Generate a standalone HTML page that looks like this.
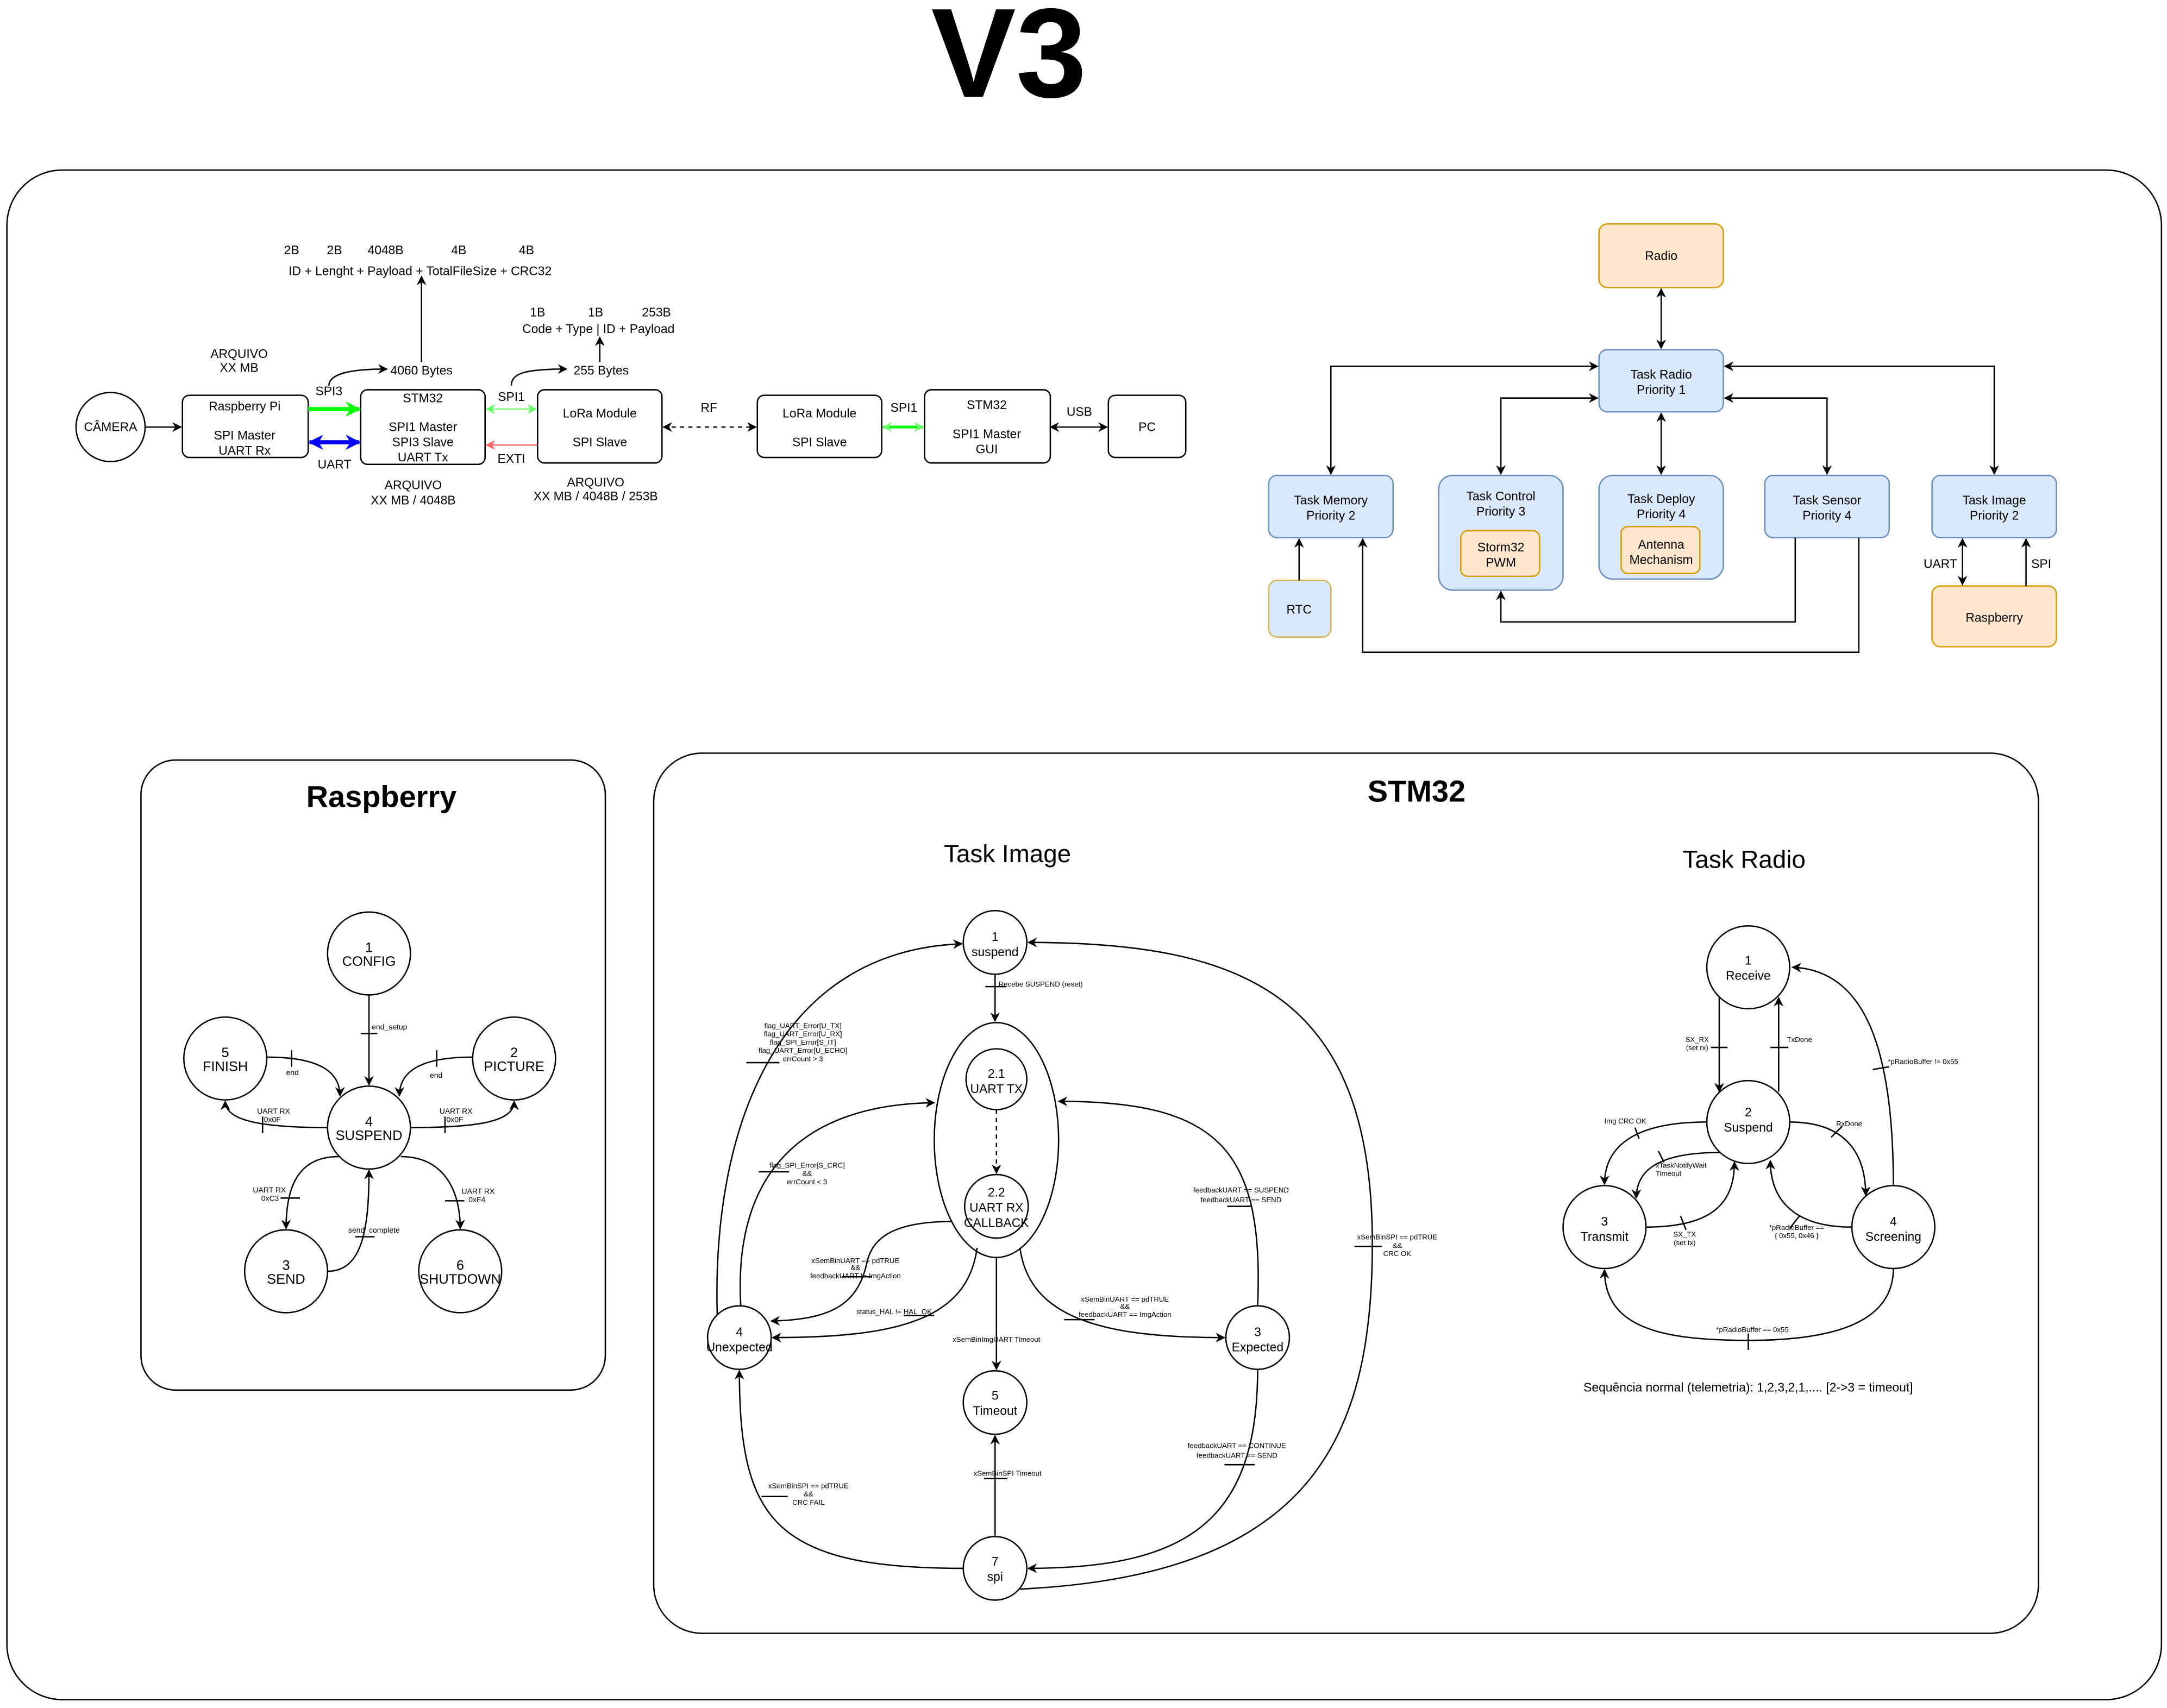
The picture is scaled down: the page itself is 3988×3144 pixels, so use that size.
<!DOCTYPE html>
<html><head><meta charset="utf-8">
<style>
html,body{margin:0;padding:0;background:#fff;}
svg{display:block;}
text{font-family:"Liberation Sans",sans-serif;fill:#000;}
</style></head>
<body>
<svg width="3988" height="3144" viewBox="0 0 1568 1236" xmlns="http://www.w3.org/2000/svg">
<defs>
<marker id="a" viewBox="0 0 10 10" refX="9" refY="5" markerWidth="7" markerHeight="7" markerUnits="userSpaceOnUse" orient="auto-start-reverse"><path d="M0,0 L10,5 L0,10 L3,5 z" fill="#000"/></marker>
<marker id="ag" viewBox="0 0 10 10" refX="9" refY="5" markerWidth="11" markerHeight="11" markerUnits="userSpaceOnUse" orient="auto-start-reverse"><path d="M0,0 L10,5 L0,10 L3,5 z" fill="#00ff00"/></marker>
<marker id="ab" viewBox="0 0 10 10" refX="9" refY="5" markerWidth="11" markerHeight="11" markerUnits="userSpaceOnUse" orient="auto-start-reverse"><path d="M0,0 L10,5 L0,10 L3,5 z" fill="#0000ff"/></marker>
<marker id="alg" viewBox="0 0 10 10" refX="9" refY="5" markerWidth="7" markerHeight="7" markerUnits="userSpaceOnUse" orient="auto-start-reverse"><path d="M0,0 L10,5 L0,10 L3,5 z" fill="#66ff66"/></marker>
<marker id="ar" viewBox="0 0 10 10" refX="9" refY="5" markerWidth="7" markerHeight="7" markerUnits="userSpaceOnUse" orient="auto-start-reverse"><path d="M0,0 L10,5 L0,10 L3,5 z" fill="#ff6666"/></marker>
</defs>

<text x="730" y="70" font-size="92" font-weight="bold" text-anchor="middle">V3</text>
<rect x="5" y="123" width="1559" height="1107" rx="40" fill="none" stroke="#000" stroke-width="1"/>

<!-- top-left -->
<g fill="none" stroke="#000" stroke-width="1">
<ellipse cx="80" cy="309" rx="25" ry="25"/>
<rect x="132" y="286" width="91" height="45" rx="5"/>
<rect x="261" y="282" width="90" height="54" rx="5"/>
<rect x="389" y="282" width="90" height="53" rx="5"/>
<rect x="548" y="286" width="90" height="45" rx="5"/>
<rect x="669" y="282" width="91" height="53" rx="5"/>
<rect x="802" y="286" width="56" height="45" rx="5"/>
<line x1="105" y1="309" x2="131" y2="309" marker-end="url(#a)"/>
<line x1="480" y1="309" x2="547" y2="309" stroke-dasharray="3,3" marker-start="url(#a)" marker-end="url(#a)"/>
<line x1="760" y1="309" x2="801" y2="309" marker-start="url(#a)" marker-end="url(#a)"/>
<path d="M238,279 C238,270 255,267 280,267" marker-end="url(#a)"/>
<line x1="305" y1="262" x2="305" y2="200" marker-end="url(#a)"/>
<path d="M370,279 C370,270 380,267 410,267" marker-end="url(#a)"/>
<line x1="434" y1="262" x2="434" y2="244" marker-end="url(#a)"/>
</g>
<line x1="223" y1="296" x2="260" y2="296" stroke="#00ff00" stroke-width="3" marker-end="url(#ag)"/>
<line x1="224" y1="320" x2="260" y2="320" stroke="#0000ff" stroke-width="3" marker-start="url(#ab)" marker-end="url(#ab)"/>
<line x1="352" y1="296" x2="388" y2="296" stroke="#66ff66" stroke-width="1" marker-start="url(#alg)" marker-end="url(#alg)"/>
<line x1="389" y1="322" x2="352" y2="322" stroke="#ff6666" stroke-width="1" marker-end="url(#ar)"/>
<line x1="639" y1="309" x2="668" y2="309" stroke="#00ff00" stroke-width="2" marker-start="url(#alg)" marker-end="url(#alg)"/>
<g font-size="9" text-anchor="middle">
<text x="80" y="312">CÂMERA</text>
<text x="177" y="297">Raspberry Pi</text><text x="177" y="318">SPI Master</text><text x="177" y="329">UART Rx</text>
<text x="306" y="291">STM32</text><text x="306" y="312">SPI1 Master</text><text x="306" y="323">SPI3 Slave</text><text x="306" y="334">UART Tx</text>
<text x="434" y="302">LoRa Module</text><text x="434" y="323">SPI Slave</text>
<text x="593" y="302">LoRa Module</text><text x="593" y="323">SPI Slave</text>
<text x="714" y="296">STM32</text><text x="714" y="317">SPI1 Master</text><text x="714" y="328">GUI</text>
<text x="830" y="312">PC</text>
<text x="238" y="286">SPI3</text><text x="242" y="339">UART</text>
<text x="370" y="290">SPI1</text><text x="370" y="335">EXTI</text>
<text x="513" y="298">RF</text><text x="654" y="298">SPI1</text><text x="781" y="301">USB</text>
<text x="173" y="259">ARQUIVO</text><text x="173" y="269">XX MB</text>
<text x="299" y="354">ARQUIVO</text><text x="299" y="365">XX MB / 4048B</text>
<text x="431" y="352">ARQUIVO</text><text x="431" y="362">XX MB / 4048B / 253B</text>
<text x="305" y="271">4060 Bytes</text><text x="435" y="271">255 Bytes</text>
<text x="211" y="184">2B</text><text x="242" y="184">2B</text><text x="279" y="184">4048B</text><text x="332" y="184">4B</text><text x="381" y="184">4B</text>
<text x="304" y="199">ID + Lenght + Payload + TotalFileSize + CRC32</text>
<text x="389" y="229">1B</text><text x="431" y="229">1B</text><text x="475" y="229">253B</text>
<text x="433" y="241">Code + Type | ID + Payload</text>
</g>

<!-- top-right tasks -->
<g stroke-width="1">
<rect x="1157" y="162" width="90" height="46" rx="6" fill="#ffe6cc" stroke="#d79b00"/>
<rect x="1157" y="253" width="90" height="45" rx="6" fill="#dae8fc" stroke="#6c8ebf"/>
<rect x="918" y="344" width="90" height="45" rx="6" fill="#dae8fc" stroke="#6c8ebf"/>
<rect x="1041" y="344" width="90" height="83" rx="10" fill="#dae8fc" stroke="#6c8ebf"/>
<rect x="1057" y="384" width="57" height="33" rx="5" fill="#ffe6cc" stroke="#d79b00"/>
<rect x="1157" y="344" width="90" height="75" rx="10" fill="#dae8fc" stroke="#6c8ebf"/>
<rect x="1173" y="381" width="57" height="34" rx="5" fill="#ffe6cc" stroke="#d79b00"/>
<rect x="1277" y="344" width="90" height="45" rx="6" fill="#dae8fc" stroke="#6c8ebf"/>
<rect x="1398" y="344" width="90" height="45" rx="6" fill="#dae8fc" stroke="#6c8ebf"/>
<rect x="918" y="420" width="45" height="41" rx="6" fill="#dae8fc" stroke="#d6b656"/>
<rect x="1398" y="424" width="90" height="44" rx="6" fill="#ffe6cc" stroke="#d79b00"/>
</g>
<g fill="none" stroke="#000" stroke-width="1">
<line x1="1202" y1="209" x2="1202" y2="252" marker-start="url(#a)" marker-end="url(#a)"/>
<polyline points="1156,265 963,265 963,343" marker-start="url(#a)" marker-end="url(#a)"/>
<polyline points="1156,288 1086,288 1086,343" marker-start="url(#a)" marker-end="url(#a)"/>
<line x1="1202" y1="299" x2="1202" y2="343" marker-start="url(#a)" marker-end="url(#a)"/>
<polyline points="1248,288 1322,288 1322,343" marker-start="url(#a)" marker-end="url(#a)"/>
<polyline points="1248,265 1443,265 1443,343" marker-start="url(#a)" marker-end="url(#a)"/>
<line x1="940" y1="420" x2="940" y2="390" marker-end="url(#a)"/>
<polyline points="1299,389 1299,450 1086,450 1086,428" marker-end="url(#a)"/>
<polyline points="1345,389 1345,472 986,472 986,390" marker-end="url(#a)"/>
<line x1="1420" y1="390" x2="1420" y2="423" marker-start="url(#a)" marker-end="url(#a)"/>
<line x1="1466" y1="424" x2="1466" y2="390" marker-end="url(#a)"/>
</g>
<g font-size="9" text-anchor="middle">
<text x="1202" y="188">Radio</text>
<text x="1202" y="274">Task Radio</text><text x="1202" y="285">Priority 1</text>
<text x="963" y="365">Task Memory</text><text x="963" y="376">Priority 2</text>
<text x="1086" y="362">Task Control</text><text x="1086" y="373">Priority 3</text>
<text x="1086" y="399">Storm32</text><text x="1086" y="410">PWM</text>
<text x="1202" y="364">Task Deploy</text><text x="1202" y="375">Priority 4</text>
<text x="1202" y="397">Antenna</text><text x="1202" y="408">Mechanism</text>
<text x="1322" y="365">Task Sensor</text><text x="1322" y="376">Priority 4</text>
<text x="1443" y="365">Task Image</text><text x="1443" y="376">Priority 2</text>
<text x="940" y="444">RTC</text><text x="1443" y="450">Raspberry</text>
<text x="1404" y="411">UART</text><text x="1477" y="411">SPI</text>
</g>

<!-- Raspberry panel -->
<rect x="102" y="550" width="336" height="456" rx="25" fill="none" stroke="#000"/>
<text x="276" y="584" font-size="22" font-weight="bold" text-anchor="middle">Raspberry</text>
<g fill="none" stroke="#000" stroke-width="1">
<circle cx="267" cy="690" r="30"/><circle cx="163" cy="766" r="30"/><circle cx="372" cy="766" r="30"/>
<circle cx="267" cy="816" r="30"/><circle cx="207" cy="920" r="30"/><circle cx="333" cy="920" r="30"/>
<line x1="267" y1="720" x2="267" y2="785" marker-end="url(#a)"/>
<path d="M193,765 C230,765 246,775 246,793" marker-end="url(#a)"/>
<path d="M342,765 C305,765 289,775 289,793" marker-end="url(#a)"/>
<path d="M237,816 C185,816 163,810 163,797" marker-end="url(#a)"/>
<path d="M297,816 C345,816 372,812 372,797" marker-end="url(#a)"/>
<path d="M245,837 C215,837 207,860 207,889" marker-end="url(#a)"/>
<path d="M290,837 C320,837 333,860 333,889" marker-end="url(#a)"/>
<path d="M237,920 C262,920 267,890 267,847" marker-end="url(#a)"/>
<line x1="261" y1="748" x2="273" y2="748"/><line x1="211" y1="760" x2="211" y2="772"/>
<line x1="316" y1="760" x2="316" y2="772"/><line x1="190" y1="808" x2="190" y2="820"/>
<line x1="322" y1="808" x2="322" y2="820"/><line x1="203" y1="867" x2="217" y2="867"/>
<line x1="322" y1="869" x2="336" y2="869"/><line x1="257" y1="895" x2="271" y2="895"/>
</g>
<g font-size="10" text-anchor="middle">
<text x="267" y="689">1</text><text x="267" y="699">CONFIG</text>
<text x="163" y="765">5</text><text x="163" y="775">FINISH</text>
<text x="372" y="765">2</text><text x="372" y="775">PICTURE</text>
<text x="267" y="815">4</text><text x="267" y="825">SUSPEND</text>
<text x="207" y="919">3</text><text x="207" y="929">SEND</text>
<text x="333" y="919">6</text><text x="333" y="929">SHUTDOWN</text>
</g>
<g font-size="5.5">
<text x="269" y="745">end_setup</text>
<text x="207" y="778">end</text><text x="311" y="780">end</text>
<text x="186" y="806">UART RX</text><text x="191" y="812">0x0F</text>
<text x="318" y="806">UART RX</text><text x="323" y="812">0x0F</text>
<text x="183" y="863">UART RX</text><text x="189" y="869">0xC3</text>
<text x="334" y="864">UART RX</text><text x="339" y="870">0xF4</text>
<text x="252" y="892">send_complete</text>
</g>

<!-- STM32 panel -->
<rect x="473" y="545" width="1002" height="637" rx="35" fill="none" stroke="#000"/>
<text x="1025" y="580" font-size="22" font-weight="bold" text-anchor="middle">STM32</text>
<text x="729" y="624" font-size="18" text-anchor="middle">Task Image</text>
<text x="1262" y="628" font-size="18" text-anchor="middle">Task Radio</text>

<g fill="none" stroke="#000" stroke-width="1">
<circle cx="720" cy="682" r="23"/>
<ellipse cx="721" cy="825" rx="45" ry="85"/>
<circle cx="721" cy="781" r="22"/><circle cx="721" cy="873" r="23"/>
<circle cx="535" cy="968" r="23"/><circle cx="910" cy="968" r="23"/>
<circle cx="720" cy="1015" r="23"/><circle cx="720" cy="1135" r="23"/>
<line x1="720" y1="705" x2="720" y2="739" marker-end="url(#a)"/>
<line x1="721" y1="803" x2="721" y2="849" stroke-dasharray="3,3" marker-end="url(#a)"/>
<path d="M519,952 C515,820 560,688 696,683" marker-end="url(#a)"/>
<path d="M536,945 C530,840 590,799 676,798" marker-end="url(#a)"/>
<path d="M689,884 C640,884 630,900 627,915 C620,945 600,955 558,956" marker-end="url(#a)"/>
<path d="M707,903 C700,955 650,968 559,968" marker-end="url(#a)"/>
<line x1="721" y1="910" x2="721" y2="991" marker-end="url(#a)"/>
<path d="M738,903 C745,955 800,968 886,968" marker-end="url(#a)"/>
<path d="M910,945 C915,830 880,797 766,797" marker-end="url(#a)"/>
<path d="M910,991 C910,1100 860,1135 744,1135" marker-end="url(#a)"/>
<line x1="720" y1="1112" x2="720" y2="1039" marker-end="url(#a)"/>
<path d="M697,1135 C560,1135 535,1100 535,992" marker-end="url(#a)"/>
<path d="M738,1150 C950,1140 993,1040 993,900 C993,720 900,682 744,682" marker-end="url(#a)"/>
<line x1="713" y1="714" x2="728" y2="714"/><line x1="540" y1="769" x2="564" y2="769"/>
<line x1="549" y1="848" x2="571" y2="848"/><line x1="609" y1="924" x2="631" y2="924"/>
<line x1="654" y1="952" x2="676" y2="952"/><line x1="770" y1="955" x2="792" y2="955"/>
<line x1="888" y1="873" x2="906" y2="873"/><line x1="886" y1="1060" x2="908" y2="1060"/>
<line x1="712" y1="1070" x2="729" y2="1070"/><line x1="551" y1="1083" x2="570" y2="1083"/>
<line x1="980" y1="902" x2="1000" y2="902"/>
</g>
<g font-size="9" text-anchor="middle">
<text x="720" y="681">1</text><text x="720" y="692">suspend</text>
<text x="721" y="780">2.1</text><text x="721" y="791">UART TX</text>
<text x="721" y="866">2.2</text><text x="721" y="877">UART RX</text><text x="721" y="888">CALLBACK</text>
<text x="535" y="967">4</text><text x="535" y="978">Unexpected</text>
<text x="910" y="967">3</text><text x="910" y="978">Expected</text>
<text x="720" y="1013">5</text><text x="720" y="1024">Timeout</text>
<text x="720" y="1133">7</text><text x="720" y="1144">spi</text>
</g>
<g font-size="5.2" text-anchor="middle">
<text x="753" y="714">Recebe SUSPEND (reset)</text>
<text x="581" y="744">flag_UART_Error[U_TX]</text><text x="581" y="750">flag_UART_Error[U_RX]</text>
<text x="581" y="756">flag_SPI_Error[S_IT]</text><text x="581" y="762">flag_UART_Error[U_ECHO]</text>
<text x="581" y="768">errCount &gt; 3</text>
<text x="584" y="845">flag_SPI_Error[S_CRC]</text><text x="584" y="851">&amp;&amp;</text><text x="584" y="857">errCount &lt; 3</text>
<text x="619" y="914">xSemBinUART == pdTRUE</text><text x="619" y="919">&amp;&amp;</text><text x="619" y="925">feedbackUART != ImgAction</text>
<text x="647" y="951">status_HAL != HAL_OK</text>
<text x="721" y="971">xSemBinImgUART Timeout</text>
<text x="814" y="942">xSemBinUART == pdTRUE</text><text x="814" y="947">&amp;&amp;</text><text x="814" y="953">feedbackUART == ImgAction</text>
<text x="898" y="863">feedbackUART == SUSPEND</text><text x="898" y="870">feedbackUART == SEND</text>
<text x="895" y="1048">feedbackUART == CONTINUE</text><text x="895" y="1055">feedbackUART == SEND</text>
<text x="729" y="1068">xSemBinSPI Timeout</text>
<text x="585" y="1077">xSemBinSPI == pdTRUE</text><text x="585" y="1083">&amp;&amp;</text><text x="585" y="1089">CRC FAIL</text>
<text x="1011" y="897">xSemBinSPI == pdTRUE</text><text x="1011" y="903">&amp;&amp;</text><text x="1011" y="909">CRC OK</text>
</g>

<!-- Task Radio -->
<g fill="none" stroke="#000" stroke-width="1">
<circle cx="1265" cy="700" r="30"/><circle cx="1265" cy="812" r="30"/>
<circle cx="1161" cy="888" r="30"/><circle cx="1370" cy="888" r="30"/>
<line x1="1244" y1="722" x2="1244" y2="790" marker-end="url(#a)"/>
<line x1="1287" y1="790" x2="1287" y2="722" marker-end="url(#a)"/>
<path d="M1370,858 C1370,760 1350,702 1297,700" marker-end="url(#a)"/>
<path d="M1235,812 C1175,812 1161,835 1161,857" marker-end="url(#a)"/>
<path d="M1245,834 C1195,834 1184,850 1184,867" marker-end="url(#a)"/>
<path d="M1191,888 C1240,888 1255,870 1255,841" marker-end="url(#a)"/>
<path d="M1340,888 C1300,888 1281,870 1281,840" marker-end="url(#a)"/>
<path d="M1295,812 C1340,812 1350,840 1350,865" marker-end="url(#a)"/>
<path d="M1370,918 C1370,960 1320,970 1265,970 C1200,970 1161,960 1161,919" marker-end="url(#a)"/>
<line x1="1238" y1="758" x2="1250" y2="758"/><line x1="1281" y1="758" x2="1294" y2="758"/>
<line x1="1355" y1="774" x2="1367" y2="772"/><line x1="1183" y1="816" x2="1186" y2="824"/>
<line x1="1200" y1="833" x2="1204" y2="841"/><line x1="1216" y1="880" x2="1220" y2="890"/>
<line x1="1302" y1="880" x2="1295" y2="889"/><line x1="1325" y1="823" x2="1333" y2="815"/>
<line x1="1265" y1="965" x2="1265" y2="977"/>
</g>
<g font-size="9" text-anchor="middle">
<text x="1265" y="698">1</text><text x="1265" y="709">Receive</text>
<text x="1265" y="808">2</text><text x="1265" y="819">Suspend</text>
<text x="1161" y="887">3</text><text x="1161" y="898">Transmit</text>
<text x="1370" y="887">4</text><text x="1370" y="898">Screening</text>
<text x="1265" y="1007">Sequência normal (telemetria): 1,2,3,2,1,.... [2-&gt;3 = timeout]</text>
</g>
<g font-size="5.2">
<text x="1228" y="754" text-anchor="middle">SX_RX</text><text x="1228" y="760" text-anchor="middle">(set rx)</text>
<text x="1293" y="754">TxDone</text>
<text x="1366" y="770">*pRadioBuffer != 0x55</text>
<text x="1176" y="813" text-anchor="middle">Img CRC OK</text>
<text x="1198" y="845">xTaskNotifyWait</text><text x="1198" y="851">Timeout</text>
<text x="1219" y="895" text-anchor="middle">SX_TX</text><text x="1219" y="901" text-anchor="middle">(set tx)</text>
<text x="1300" y="890" text-anchor="middle">*pRadioBuffer ==</text><text x="1300" y="896" text-anchor="middle">{ 0x55, 0x46 }</text>
<text x="1338" y="815" text-anchor="middle">RxDone</text>
<text x="1268" y="964" text-anchor="middle">*pRadioBuffer == 0x55</text>
</g>
</svg>
</body></html>
